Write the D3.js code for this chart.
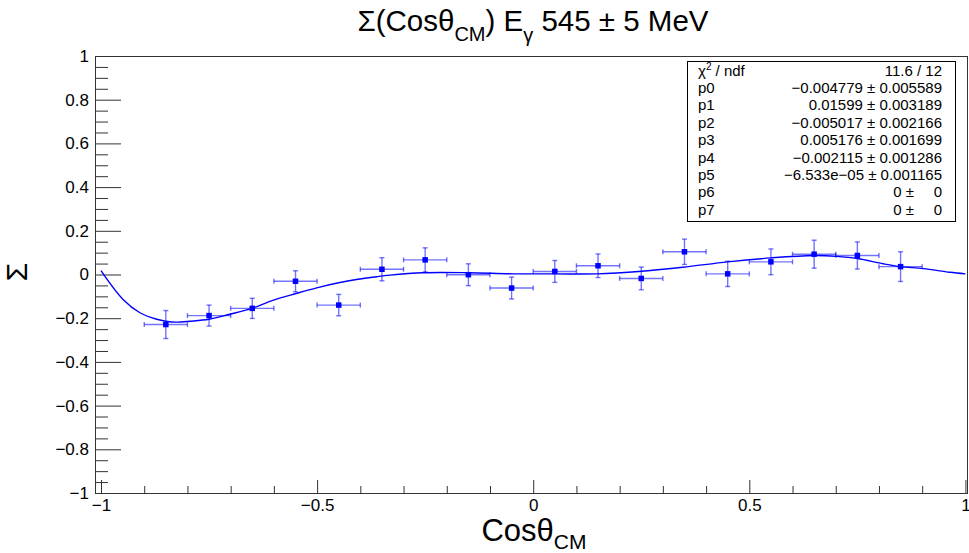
<!DOCTYPE html>
<html><head><meta charset="utf-8">
<script src="https://cdn.jsdelivr.net/npm/d3@7"></script>
<style>
body{margin:0;background:#fff}
svg{display:block}
text{font-family:"Liberation Sans",Arial,Helvetica,sans-serif;fill:#000}
</style>
</head><body>
<svg id="chart" width="969" height="553"></svg>
<script>
// ---- data ----
const cosTheta = [-0.85,-0.75,-0.65,-0.55,-0.45,-0.35,-0.25,-0.15,-0.05,0.05,0.15,0.25,0.35,0.45,0.55,0.65,0.75,0.85];
const sigma    = [-0.229,-0.188,-0.155,-0.031,-0.140,0.024,0.067,-0.001,-0.062,0.014,0.040,-0.018,0.104,0.003,0.058,0.093,0.087,0.036];
const sigmaErr = [0.064,0.048,0.046,0.048,0.049,0.053,0.055,0.050,0.050,0.050,0.054,0.052,0.058,0.058,0.059,0.064,0.062,0.068];
const cosErr   = [0.05,0.05,0.05,0.05,0.05,0.05,0.05,0.05,0.05,0.05,0.05,0.05,0.05,0.05,0.05,0.05,0.05,0.05];
const fitX = [-1.0,-0.949,-0.910,-0.871,-0.850,-0.825,-0.794,-0.750,-0.702,-0.651,-0.601,-0.549,-0.501,-0.450,-0.409,-0.362,-0.332,-0.255,-0.150,-0.046,0.054,0.147,0.251,0.346,0.450,0.550,0.650,0.702,0.750,0.810,0.850,0.903,0.964,1.0];
const fitY = [0.018,-0.114,-0.175,-0.205,-0.214,-0.218,-0.214,-0.205,-0.182,-0.155,-0.117,-0.087,-0.061,-0.038,-0.023,-0.010,-0.003,0.008,0.008,0.003,0.003,0.003,0.015,0.033,0.058,0.076,0.087,0.083,0.073,0.049,0.036,0.027,0.010,0.003];
const xMajorTicks = [-1,-0.5,0,0.5,1];
const yMajorTicks = [-1,-0.8,-0.6,-0.4,-0.2,0,0.2,0.4,0.6,0.8,1];
const statNames  = ["p0","p1","p2","p3","p4","p5","p6","p7"];
const statVals   = ["−0.004779 ± 0.005589","0.01599 ± 0.003189","−0.005017 ± 0.002166","0.005176 ± 0.001699","−0.002115 ± 0.001286","−6.533e−05 ± 0.001165","0 ±","0 ±"];
const statErrTail = ["","","","","","","0","0"];
const chi2ndf = "11.6 / 12";

// ---- layout ----
const L = 95, R = 968, T = 56, B = 493;
const svg = d3.select("#chart");
const x = d3.scaleLinear().domain([-1.0139, 1.006]).range([L, R]);
const y = d3.scaleLinear().domain([-1, 1]).range([B, T]);

const fmt = d => d3.format("")(d);

// minor ticks
const yMinor = y.ticks(40).filter(v => !yMajorTicks.some(m => Math.abs(m - v) < 1e-9));
const xMinor = x.ticks(20).filter(v => v >= -1 && v <= 1 && !xMajorTicks.some(m => Math.abs(m - v) < 1e-9));

const axCol = "#333";
function styleAxis(g){
  g.select(".domain").remove();
  g.selectAll(".tick line").attr("stroke", axCol).attr("stroke-width",1);
  g.selectAll(".tick text").attr("font-size", 17).attr("font-family", '"Liberation Sans",Arial,sans-serif').attr("fill","#000");
}

svg.append("g").attr("transform", `translate(${L},0)`)
  .call(d3.axisLeft(y).tickValues(yMajorTicks).tickSize(-26).tickPadding(6).tickFormat(fmt))
  .call(styleAxis);
svg.append("g").attr("transform", `translate(${L},0)`)
  .call(d3.axisLeft(y).tickValues(yMinor).tickSize(-13).tickFormat(""))
  .call(styleAxis);
svg.append("g").attr("transform", `translate(0,${B})`)
  .call(d3.axisBottom(x).tickValues(xMajorTicks).tickSize(-13).tickPadding(6).tickFormat(fmt))
  .call(styleAxis);
svg.append("g").attr("transform", `translate(0,${B})`)
  .call(d3.axisBottom(x).tickValues(xMinor).tickSize(-7).tickFormat(""))
  .call(styleAxis);

// frame
svg.append("rect").attr("x", L + 0.5).attr("y", T + 0.5).attr("width", R - L - 1).attr("height", B - T)
  .attr("fill","none").attr("stroke", axCol).attr("stroke-width",1);

// clip
svg.append("clipPath").attr("id","clip").append("rect").attr("x",L).attr("y",T).attr("width",R-L).attr("height",B-T);

// fit curve
const pts = fitX.map((v,i)=>[v, fitY[i]]);
svg.append("path").attr("clip-path","url(#clip)")
  .datum(pts)
  .attr("d", d3.line().x(d=>x(d[0])).y(d=>y(d[1])).curve(d3.curveCatmullRom.alpha(0.5)))
  .attr("fill","none").attr("stroke","#0000ff").attr("stroke-width",1.4);

// data points with error bars
const data = cosTheta.map((c,i)=>({c, s:sigma[i], e:sigmaErr[i], ex:cosErr[i]}));
const eg = svg.append("g").attr("stroke","rgba(0,0,255,0.55)").attr("stroke-width",1.4);
const cap = 2.5;
data.forEach(d=>{
  const cx = x(d.c), cy = y(d.s);
  const y1 = y(d.s + d.e), y2 = y(d.s - d.e);
  const x1 = x(d.c - d.ex), x2 = x(d.c + d.ex);
  eg.append("line").attr("x1",cx).attr("x2",cx).attr("y1",y1).attr("y2",y2);
  eg.append("line").attr("x1",cx-cap).attr("x2",cx+cap).attr("y1",y1).attr("y2",y1);
  eg.append("line").attr("x1",cx-cap).attr("x2",cx+cap).attr("y1",y2).attr("y2",y2);
  eg.append("line").attr("x1",x1).attr("x2",x2).attr("y1",cy).attr("y2",cy);
  eg.append("line").attr("x1",x1).attr("x2",x1).attr("y1",cy-cap).attr("y2",cy+cap);
  eg.append("line").attr("x1",x2).attr("x2",x2).attr("y1",cy-cap).attr("y2",cy+cap);
});
svg.append("g").selectAll("rect").data(data).join("rect")
  .attr("x", d=>x(d.c)-2.75).attr("y", d=>y(d.s)-2.75).attr("width",5.5).attr("height",5.5)
  .attr("fill","#0000ff");

// stats box
const bx0 = 687, by0 = 61, bx1 = 955, by1 = 221;
svg.append("rect").attr("x",bx0+0.5).attr("y",by0+0.5).attr("width",bx1-bx0).attr("height",by1-by0)
  .attr("fill","#fff").attr("stroke","#000").attr("stroke-width",1);
const fs = 15, rowH = 17.4, base0 = 75.5, labX = 698, valX = 942;
const chiT = svg.append("text").attr("x",labX).attr("y",base0).attr("font-size",fs);
chiT.append("tspan").text("χ");
chiT.append("tspan").attr("font-size",10).attr("dy",-6).text("2");
chiT.append("tspan").attr("dy",6).text(" / ndf");
svg.append("text").attr("x",valX).attr("y",base0).attr("font-size",fs).attr("text-anchor","end").text(chi2ndf);
statNames.forEach((n,i)=>{
  const by = base0 + rowH*(i+1);
  svg.append("text").attr("x",labX).attr("y",by).attr("font-size",fs).text(n);
  if (statErrTail[i]) {
    svg.append("text").attr("x",valX-28).attr("y",by).attr("font-size",fs).attr("text-anchor","end").text(statVals[i]);
    svg.append("text").attr("x",valX).attr("y",by).attr("font-size",fs).attr("text-anchor","end").text(statErrTail[i]);
  } else {
    svg.append("text").attr("x",valX).attr("y",by).attr("font-size",fs).attr("text-anchor","end").text(statVals[i]);
  }
});

// title
const tt = svg.append("text").attr("x",533).attr("y",31).attr("font-size",29.5).attr("text-anchor","middle");
tt.append("tspan").text("Σ(Cosθ");
tt.append("tspan").attr("font-size",20).attr("dy",10).text("CM");
tt.append("tspan").attr("dy",-10).text(") E");
tt.append("tspan").attr("font-size",20).attr("dy",11).text("γ");
tt.append("tspan").attr("dy",-11).text(" 545 ± 5 MeV");

// x label
const xl = svg.append("text").attr("x",534).attr("y",541).attr("font-size",31).attr("text-anchor","middle");
xl.append("tspan").text("Cosθ");
xl.append("tspan").attr("font-size",21).attr("dy",8).text("CM");

// y label
svg.append("text").attr("transform","translate(27,272) rotate(-90)").attr("font-size",30).attr("text-anchor","middle").text("Σ");
</script>
</body></html>
